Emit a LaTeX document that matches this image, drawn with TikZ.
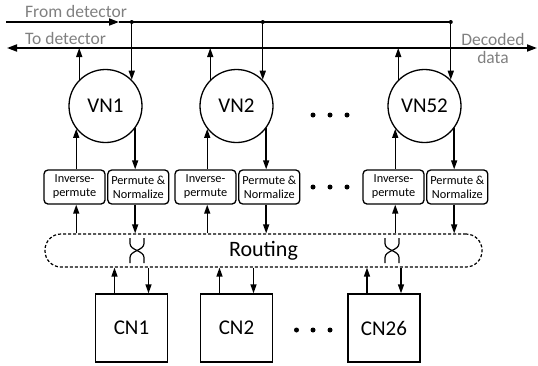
\documentclass[tikz,border=0pt]{standalone}
\usepackage{fontspec}
\setmainfont{Carlito}
\usetikzlibrary{arrows.meta,positioning}

\begin{document}
\begin{tikzpicture}[x=1pt,y=-1pt,
  vnode/.style={circle,draw,line width=1.3pt,minimum size=73pt,inner sep=0pt,font=\fontsize{21}{25}\selectfont},
  cnode/.style={rectangle,draw,line width=1.3pt,minimum width=72pt,minimum height=68pt,inner sep=0pt,font=\fontsize{21}{25}\selectfont},
  pbox/.style={rectangle,draw,rounded corners=4pt,line width=1.3pt,minimum width=61pt,minimum height=34pt,inner sep=0pt,align=center,font=\fontsize{12.3}{14}\selectfont},
  busline/.style={line width=1.8pt},
  link/.style={line width=1.4pt,-{Triangle[length=9pt,width=6pt]}},
  lbl/.style={text=gray,inner sep=0pt,font=\fontsize{17.5}{18}\selectfont}]
  \useasboundingbox (0,0) rectangle (538,365);

  % Lines to and from the detector
  \coordinate (fromstart) at (6,22);
  \coordinate (frommid) at (119,22);
  \coordinate (fromend) at (450.3,22);
  \coordinate (toleft) at (7,48);
  \coordinate (toright) at (537,48);
  \draw[busline,-{Triangle[length=10pt,width=7pt]}] (fromstart) -- (frommid);
  \draw[busline] (frommid) -- (fromend);
  \draw[busline,{Triangle[length=10pt,width=7pt]}-{Triangle[length=10pt,width=7pt]}] (toleft) -- (toright);
  \node[lbl,anchor=west] (fromtxt) at (25,11) {From detector};
  \node[lbl,anchor=west] (totxt) at (25,38.5) {To detector};
  \node[lbl,align=center] (dectxt) at (493,48) {Decoded\\data};

  % Variable nodes
  \node[vnode] (vn1) at (105.5,106) {VN1};
  \node[vnode] (vn2) at (236.5,106) {VN2};
  \node[vnode] (vn52) at (424.5,106) {VN52};

  % Permute boxes under each VN
  \node[pbox] (inv1) at (74.5,187) {Inverse-\\permute};
  \node[pbox,right=1.5pt of inv1] (perm1) {Permute \&\\Normalize};
  \node[pbox] (inv2) at (205.5,187) {Inverse-\\permute};
  \node[pbox,right=1.5pt of inv2] (perm2) {Permute \&\\Normalize};
  \node[pbox] (inv52) at (393.5,187) {Inverse-\\permute};
  \node[pbox,right=1.5pt of inv52] (perm52) {Permute \&\\Normalize};

  % Routing network
  \node[draw,dash pattern=on 3pt off 2pt,line width=1.2pt,rounded corners=16pt,minimum width=437pt,minimum height=33pt,
        font=\fontsize{22}{26}\selectfont] (routing) at (263.5,250.5) {Routing};
  \coordinate (swap1) at (137,250.5);
  \coordinate (swap2) at (392,250.5);
  \foreach \c in {swap1,swap2} {
    \draw[line width=1.2pt] ([shift={(-7,-12.5)}]\c) -- ([shift={(-7,-7)}]\c)
      .. controls ([shift={(-7,0)}]\c) and ([shift={(7,0)}]\c) .. ([shift={(7,7)}]\c) -- ([shift={(7,12.5)}]\c);
    \draw[line width=1.2pt] ([shift={(7,-12.5)}]\c) -- ([shift={(7,-7)}]\c)
      .. controls ([shift={(7,0)}]\c) and ([shift={(-7,0)}]\c) .. ([shift={(-7,7)}]\c) -- ([shift={(-7,12.5)}]\c);
  }

  % Check nodes
  \node[cnode] (cn1) at (131.5,328) {CN1};
  \node[cnode] (cn2) at (236.5,328) {CN2};
  \node[cnode] (cn26) at (384,328) {CN26};

  % Connections of the VN columns
  \foreach \v/\i/\p in {vn1/inv1/perm1,vn2/inv2/perm2,vn52/inv52/perm52} {
    \draw[link] (\v.45 |- fromend) -- (\v.45);
    \fill (\v.45 |- fromend) circle (2pt);
    \draw[link] (\v.135) -- (\v.135 |- toleft);
    \draw[link] (\v.-142 |- \i.north) -- (\v.-142);
    \draw[link] (\v.-142 |- routing.north) -- (\v.-142 |- \i.south);
    \draw[link] (\v.-37) -- (\v.-37 |- \p.north);
    \draw[link] (\v.-37 |- \p.south) -- (\v.-37 |- routing.north);
  }

  % Connections of the CN boxes
  \foreach \c in {cn1,cn2,cn26} {
    \draw[link] ([xshift=-17pt]\c.north) -- ([xshift=-17pt]\c.north |- routing.south);
    \draw[link] ([xshift=17pt]\c.north |- routing.south) -- ([xshift=17pt]\c.north);
  }

  % Ellipsis dots
  \foreach \x in {313,330,347} {
    \fill (\x,115) circle (2.5pt);
    \fill (\x,187) circle (2.5pt);
  }
  \foreach \x in {296.5,313,330} \fill (\x,330) circle (2.5pt);
\end{tikzpicture}
\end{document}
